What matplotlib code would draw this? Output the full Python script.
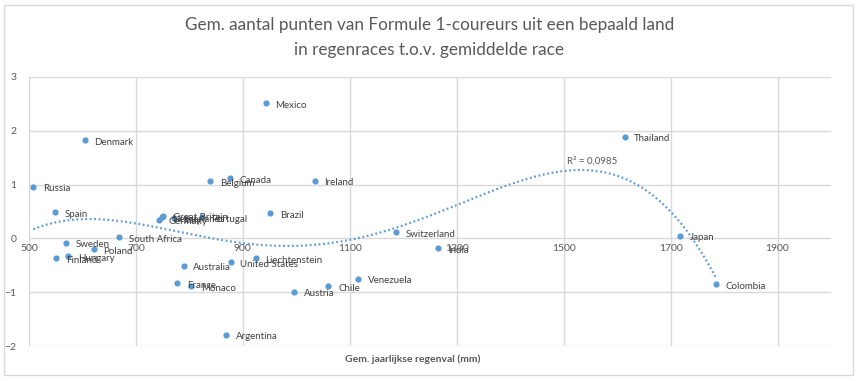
import numpy as np
import matplotlib.pyplot as plt
from matplotlib.patches import Rectangle

plt.rcParams['font.family'] = ['Lato', 'DejaVu Sans']

# data: gem. jaarlijkse regenval (mm) en gem. punten regenrace t.o.v. gemiddelde race
countries = ["Russia", "Denmark", "Spain", "Sweden", "Finland", "Hungary", "Poland",
             "South Africa", "Germany", "Netherlands", "Great Britain", "Italy", "Portugal",
             "Belgium", "Canada", "Mexico", "Brazil", "Australia", "United States",
             "Liechtenstein", "France", "Monaco", "Argentina", "Ireland", "Austria",
             "Chile", "Venezuela", "Switzerland", "India", "Thailand", "Japan", "Colombia"]
rainfall = [508, 604, 549, 569, 551, 573, 621,
            668, 743, 749, 751, 771, 823,
            839, 876, 943, 951, 789, 877,
            924, 777, 803, 869, 1034, 996,
            1060, 1115, 1186, 1265, 1614, 1717, 1784]
points = [0.96, 1.82, 0.49, -0.08, -0.37, -0.33, -0.20,
          0.02, 0.35, 0.39, 0.42, 0.38, 0.39,
          1.06, 1.12, 2.51, 0.47, -0.51, -0.44,
          -0.37, -0.83, -0.89, -1.79, 1.07, -0.99,
          -0.89, -0.75, 0.12, -0.18, 1.89, 0.05, -0.85]

x_ticks = [500, 700, 900, 1100, 1300, 1500, 1700, 1900]
y_ticks = [-2, -1, 0, 1, 2, 3]

blue = '#5B9BD5'
grey = '#595959'
gridc = '#D9D9D9'

fig = plt.figure(figsize=(8.59, 3.81), dpi=100)
fig.patches.append(Rectangle((4 / 859, 1 - 375 / 381), 849 / 859, 370 / 381,
                             transform=fig.transFigure, fill=False,
                             edgecolor=gridc, linewidth=1))
ax = fig.add_axes([29 / 859, 35 / 381, 802 / 859, 269 / 381])

ax.set_xlim(500, 2000)
ax.set_ylim(-2, 3)
for xt in x_ticks:
    ax.axvline(xt, color=gridc, lw=1, zorder=0)
for yt in y_ticks:
    ax.axhline(yt, color=gridc, lw=1, zorder=0)

for s in ax.spines.values():
    s.set_visible(False)
ax.set_xticks(x_ticks)
ax.set_yticks(y_ticks)
ax.tick_params(length=0, labelsize=7.5, labelcolor=grey)
ax.tick_params(axis='y', pad=9)
# x tick labels sit just under the zero line
ax.set_xticklabels([])
for xt in x_ticks:
    ax.annotate(str(xt), (xt, 0), xytext=(0, -4), textcoords='offset points',
                ha='center', va='top', fontsize=7.5, color=grey)

ax.scatter(rainfall, points, s=20, color=blue, zorder=3, linewidths=0)
for name, x, y in zip(countries, rainfall, points):
    ax.annotate(name, (x, y), xytext=(7, -1.5), textcoords='offset points',
                ha='left', va='center', fontsize=7, color='#404040', zorder=4)

# polynomial trend line (4th order)
coef = np.polyfit(rainfall, points, 4)
xs = np.linspace(min(rainfall), max(rainfall), 300)
ax.plot(xs, np.polyval(coef, xs), color=blue, lw=1.6, linestyle=(0, (0.8, 1.2)), zorder=2)
ax.text(1553, 1.44, 'R² = 0,0985', ha='center', va='center', fontsize=7, color=grey)

fig.text(0.5, 1 - 25 / 381, 'Gem. aantal punten van Formule 1-coureurs uit een bepaald land',
         ha='center', va='center', fontsize=12.3, color=grey)
fig.text(0.5, 1 - 50 / 381, 'in regenraces t.o.v. gemiddelde race',
         ha='center', va='center', fontsize=12.3, color=grey)
fig.text(413 / 859, 1 - 359 / 381, 'Gem. jaarlijkse regenval (mm)',
         ha='center', va='center', fontsize=7.5, color=grey, fontweight='bold')

fig.savefig('out.png', dpi=100)
